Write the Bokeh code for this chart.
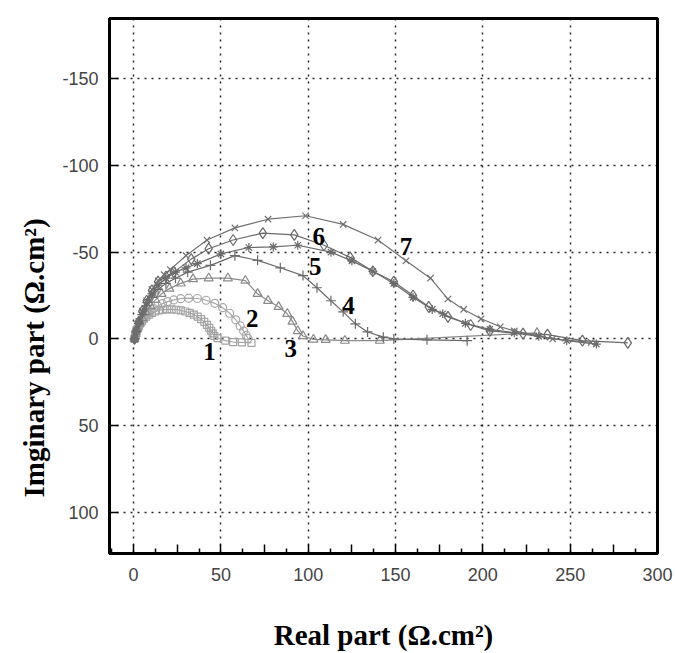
from bokeh.plotting import figure
from bokeh.models import Range1d, FixedTicker, CustomJSTickFormatter, ColumnDataSource, Title
from bokeh.core.properties import value
from bokeh.embed import file_html
from bokeh.resources import INLINE

# ---- data: real part Z' and imaginary part Z'' (Ohm.cm2) ----
x1 = [0.5, 0.8, 1.2, 1.7, 2.3, 3.0, 3.8, 4.8, 6.0, 7.3, 8.8, 10.5, 12.4, 14.5, 16.8, 19.2, 21.8,
      24.4, 27.0, 29.6, 32.1, 34.5, 36.7, 38.7, 40.5, 42.0, 43.3, 44.4, 45.3, 46.2, 48.0, 52.5,
      57.0, 62.0, 67.5]
y1 = [0, -1.5, -3, -4.5, -6, -7.5, -9, -10.4, -11.7, -12.9, -14, -15, -15.8, -16.4, -16.8, -17,
      -17, -16.8, -16.4, -15.8, -15, -14, -12.8, -11.4, -9.8, -8.1, -6.4, -4.7, -3.2, -1.8, -0.5,
      1, 1.8, 2, 2.3]

x2 = [0.5, 1, 1.6, 2.4, 3.4, 4.6, 6, 7.6, 9.4, 11.5, 13.8, 16.5, 19.5, 23, 27, 31.5, 36.5, 41.5,
      46.5, 51, 55, 58.5, 61, 63, 64.5, 65.5]
y2 = [0, -2, -4, -6, -8, -10, -12, -14, -15.8, -17.5, -19, -20.3, -21.5, -22.5, -23.2, -23.5,
      -23.3, -22.3, -20.5, -18, -14.8, -11, -7.5, -4.5, -2, -0.3]

x3 = [0.5, 1.2, 2.2, 3.5, 5, 7, 9.5, 12.5, 16, 20.5, 27, 34, 43, 54, 64, 71, 77, 83, 88, 91, 94,
      97, 103, 110, 121, 141, 231]
y3 = [0, -3, -6, -9, -12, -15.5, -19, -22.5, -26, -29, -32, -34.5, -35, -35, -33.6, -26, -22,
      -18.5, -14.5, -10, -4.6, -1.7, 0.3, 0.5, 1, 1, -3.5]

x4 = [0.5, 1.5, 3, 5, 7.5, 10.5, 14, 18.5, 24, 31, 44, 58, 71, 84, 97, 105, 113, 120, 127, 134,
      143, 149, 168, 191]
y4 = [0, -4, -9, -14, -19, -24, -28.5, -32, -35, -38.5, -42.4, -48, -45.3, -41, -36.5, -29.5,
      -22, -15.6, -8.7, -4, -1, 0, 0.5, 1]

x5 = [0.5, 1.5, 3, 5, 7.5, 10.5, 14, 18.5, 24, 30, 36.5, 50, 66, 80, 94, 113, 125, 137, 149,
      160, 171, 177, 190, 204, 218, 232, 248, 265]
y5 = [0, -4.5, -10, -15.5, -21, -26, -31, -35, -38.5, -41, -43.4, -49, -52.7, -53, -54, -50,
      -45, -39, -32, -24, -17, -14.5, -9, -5.5, -3.5, -1.5, 1, 3]

x6 = [0.5, 1.5, 3, 5, 7.5, 10.5, 14, 18.5, 23, 33, 43, 57, 74, 92, 109, 124, 137, 149, 160, 169,
      180, 193, 204, 223, 237, 257, 283]
y6 = [0, -4.5, -10, -16, -22, -28, -33, -36, -38.5, -46, -52, -57, -61, -60, -54, -47, -39, -33,
      -25, -18.5, -12.7, -8, -4.6, -3, -2.5, 1, 2.3]

x7 = [0.5, 1.5, 3, 5, 7.5, 10.5, 14, 17.5, 21, 30, 42, 58, 77, 98.5, 120, 140, 156, 170, 180,
      189, 199, 210, 218, 240, 262]
y7 = [0, -4.5, -10, -16, -22, -28.5, -33.5, -37, -40, -48, -57, -64, -69, -71, -66, -57, -45,
      -35, -23, -17, -11.6, -7, -4.6, 0, 2]

curve_labels = ["1", "2", "3", "4", "5", "6", "7"]
label_x = [43.5, 68, 90, 123, 104, 106, 156]
label_y = [7, -11.6, 5.8, -19, -41.7, -59, -53]

x_major = list(range(0, 301, 25))
x_minor = [v + 12.5 for v in range(-25, 300, 25)]
x_grid = list(range(0, 301, 50))
y_major = list(range(-150, 101, 50))

# ---- figure ----
p = figure(width=675, height=653, output_backend="svg", toolbar_location=None,
           x_range=Range1d(-13.8, 300), y_range=Range1d(123.7, -184.7),
           min_border_left=109, min_border_right=18, min_border_top=18, min_border_bottom=100)
p.background_fill_color = "white"
p.border_fill_color = "white"
p.outline_line_color = "black"
p.outline_line_width = 3

series = [
    (x1, y1, "square", "#a3a3a3", 7),
    (x2, y2, "circle", "#a8a8a8", 8),
    (x3, y3, "triangle", "#8a8a8a", 9),
    (x4, y4, "cross", "#6a6a6a", 10),
    (x5, y5, "asterisk", "#6a6a6a", 9),
    (x6, y6, "diamond", "#6a6a6a", 11),
    (x7, y7, "x", "#707070", 9),
]
for xs, ys, marker, col, size in series:
    src = ColumnDataSource(dict(x=xs, y=ys))
    p.line("x", "y", source=src, line_color=col, line_width=1.2)
    p.scatter("x", "y", source=src, marker=marker, size=size, line_color=col,
              fill_color=None, line_width=1.2)

p.text(x=label_x, y=label_y, text=curve_labels, text_font=value("Liberation Serif"),
       text_font_style="bold", text_font_size="25px", text_color="black",
       text_align="center", text_baseline="middle")

# ---- axes ----
p.xaxis.ticker = FixedTicker(ticks=x_major, minor_ticks=x_minor)
p.xaxis.formatter = CustomJSTickFormatter(code="return (tick % 50 == 0) ? tick.toFixed(0) : '';")
p.yaxis.ticker = FixedTicker(ticks=y_major)
p.yaxis.formatter = CustomJSTickFormatter(code="return tick.toFixed(0);")
p.xgrid.ticker = FixedTicker(ticks=x_grid)
p.ygrid.ticker = FixedTicker(ticks=y_major)

for g in (p.xgrid, p.ygrid):
    g.grid_line_color = "black"
    g.grid_line_dash = "2 5"
    g.grid_line_width = 1.5
    g.grid_line_alpha = 0.85

for ax in (p.xaxis, p.yaxis):
    ax.axis_line_width = 3
    ax.axis_line_color = "black"
    ax.major_tick_in = 9
    ax.major_tick_out = 0
    ax.minor_tick_in = 5
    ax.minor_tick_out = 0
    ax.major_tick_line_width = 1.5
    ax.minor_tick_line_width = 1.5
    ax.major_label_text_font = "Liberation Sans"
    ax.major_label_text_font_size = "18px"
    ax.major_label_text_color = "#444444"
    ax.axis_label_text_font = "Liberation Serif"
    ax.axis_label_text_font_style = "bold"
    ax.axis_label_text_color = "black"

p.yaxis.minor_tick_line_color = None
p.xaxis.major_label_standoff = 14
p.yaxis.major_label_standoff = 11
p.xaxis.axis_label = "Real part (Ω.cm²)"
p.xaxis.axis_label_text_font_size = "29px"
p.xaxis.axis_label_standoff = 35

ytitle = Title(text="Imginary part (Ω.cm²)", align="left", offset=56,
               text_font="Liberation Serif", text_font_style="bold", text_font_size="29px",
               text_color="black", standoff=20)
p.add_layout(ytitle, "left")

open("out.html", "w").write(file_html(p, INLINE))
